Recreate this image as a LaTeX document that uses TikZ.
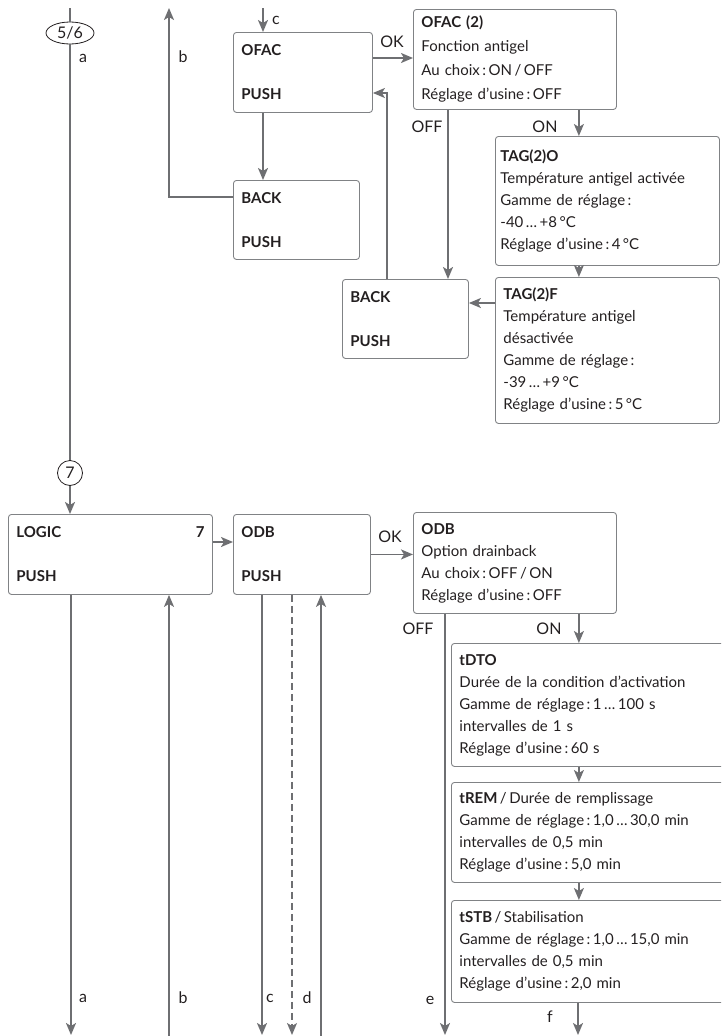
\documentclass[tikz,border=0pt]{standalone}
\usepackage{fontspec}
\setmainfont{Lato}
\usetikzlibrary{positioning, arrows.meta, shapes.geometric}
\definecolor{lineg}{RGB}{110,111,114}
\definecolor{boxg}{RGB}{128,130,133}
\definecolor{txt}{RGB}{35,31,32}

\begin{document}
\begin{tikzpicture}[x=1pt, y=-1pt,
    every node/.style={text=txt},
    box/.style={draw=boxg, line width=0.9pt, rounded corners=3pt, anchor=north west, inner xsep=8pt, inner ysep=0pt, align=left, font=\fontsize{15}{22}\selectfont},
    conn/.style={draw=lineg, line width=1.8pt},
    arr/.style={conn, -{Stealth[length=12pt, width=10pt, inset=3pt]}},
    lbl/.style={inner sep=0pt, font=\fontsize{16}{18}\selectfont}
]
\path[use as bounding box] (0,0) rectangle (721,1036);
\clip (0,0) rectangle (721,1036);

% Upper part: frost protection
\node[ellipse, draw=txt, line width=0.8pt, minimum width=48pt, minimum height=22pt, inner sep=0pt, font=\fontsize{16}{18}\selectfont] (e56) at (70,33) {5/6};
\node[box, text width=123pt, minimum height=80pt] (ofac) at (233,32) {\textbf{OFAC}\\[22pt]\textbf{PUSH}};
\node[box, text width=110pt, minimum height=79pt] (back1) at (233,180) {\textbf{BACK}\\[22pt]\textbf{PUSH}};
\node[box, text width=187pt, minimum height=100pt, font=\fontsize{15}{24}\selectfont] (ofac2) at (413,9) {\textbf{OFAC (2)}\\Fonction antigel\\Au choix\,:\,ON\,/\,OFF\\Réglage d’usine\,:\,OFF};
\node[box, inner xsep=5pt, text width=214pt, minimum height=129pt] (tago) at (495,136) {\textbf{TAG(2)O}\\Température antigel activée\\Gamme de réglage\,:\\-40\,…\,+8\,°C\\Réglage d’usine\,:\,4\,°C};
\node[box, text width=208pt, minimum height=146pt] (tagf) at (495,277) {\textbf{TAG(2)F}\\Température antigel\\désactivée\\Gamme de réglage\,:\\-39\,…\,+9\,°C\\Réglage d’usine\,:\,5\,°C};
\node[box, text width=110pt, minimum height=79pt] (back2) at (342,279) {\textbf{BACK}\\[22pt]\textbf{PUSH}};

% Lower part: drainback
\node[circle, draw=txt, line width=0.8pt, minimum size=25pt, inner sep=0pt, font=\fontsize{16}{18}\selectfont] (c7) at (70,473) {7};
\node[box, text width=188pt, minimum height=80pt] (logic) at (8,514) {\textbf{LOGIC}\hfill\textbf{7}\hspace*{11pt}\\[22pt]\textbf{PUSH}};
\node[box, text width=121pt, minimum height=80pt] (odb) at (233,514) {\textbf{ODB}\\[22pt]\textbf{PUSH}};
\node[box, text width=187pt, minimum height=101pt] (odb2) at (413,512) {\textbf{ODB}\\Option drainback\\Au choix\,:\,OFF\,/\,ON\\Réglage d’usine\,:\,OFF};
\node[box, text width=284pt, minimum height=123pt] (tdto) at (451,643) {\textbf{tDTO}\\Durée de la condition d’activation\\Gamme de réglage\,:\,1\,…\,100 s\\intervalles de 1 s\\Réglage d’usine\,:\,60 s};
\node[box, text width=284pt, minimum height=100pt] (trem) at (451,782) {\textbf{tREM}\,/\,Durée de remplissage\\Gamme de réglage\,:\,1,0\,…\,30,0 min\\intervalles de 0,5 min\\Réglage d’usine\,:\,5,0 min};
\node[box, text width=284pt, minimum height=102pt] (tstb) at (451,900) {\textbf{tSTB}\,/\,Stabilisation\\Gamme de réglage\,:\,1,0\,…\,15,0 min\\intervalles de 0,5 min\\Réglage d’usine\,:\,2,0 min};

% Labels
\node[lbl] (la) at (83,58) {a};
\node[lbl] (lb) at (183,57) {b};
\node[lbl] (lc) at (276,20) {c};
\node[lbl] (lok) at (392,42) {OK};
\node[lbl] (loff) at (427,127) {OFF};
\node[lbl] (lon) at (545,127) {ON};
\node[lbl] (lok2) at (390,537) {OK};
\node[lbl] (loff2) at (418,629) {OFF};
\node[lbl] (lon2) at (549,629) {ON};
\foreach \x/\y/\lab in {83/998/a, 183/998/b, 270/998/c, 307/998/d, 430/1000/e, 550/1017/f} {
    \node[lbl] (lbot-\lab) at (\x,\y) {\lab};
}

% Connectors, top
\coordinate (atop) at (70,8);
\draw[conn] (atop) -- (e56.north);
\draw[conn] (e56.south) -- (c7.north);
\draw[arr] (c7.south) -- (c7.south |- logic.north);

\coordinate (btop) at (169,8);
\draw[arr] ([yshift=-17pt]back1.north west) -| (btop);

\coordinate (ctop) at (263,8);
\draw[arr] (ctop) -- (ctop |- ofac.north);
\draw[arr] (ctop |- ofac.south) -- (ctop |- back1.north);

\coordinate (okA) at ([yshift=-26pt]ofac.north east);
\draw[arr] (okA) -- (okA -| ofac2.west);
\coordinate (offA) at ([xshift=35pt]ofac2.south west);
\draw[arr] (offA) -- (offA |- back2.north);
\coordinate (onA) at ([xshift=-38pt]ofac2.south east);
\draw[arr] (onA) -- (onA |- tago.north);
\draw[arr] (onA |- tago.south) -- (onA |- tagf.north);
\coordinate (tfA) at ([yshift=-26pt]tagf.north west);
\draw[arr] (tfA) -- (tfA -| back2.east);
\coordinate (bkA) at ([xshift=45pt]back2.north west);
\coordinate (bkB) at ([yshift=-61pt]ofac.north east);
\draw[arr] (bkA) |- (bkB);

% Connectors, bottom
\coordinate (lgA) at ([yshift=-28pt]logic.north east);
\draw[arr] (lgA) -- (lgA -| odb.west);
\draw[arr] (odb.east) -- (odb.east -| odb2.west);
\coordinate (onB) at ([xshift=-38pt]odb2.south east);
\draw[arr] (onB) -- (onB |- tdto.north);
\draw[arr] (onB |- tdto.south) -- (onB |- trem.north);
\draw[arr] (onB |- trem.south) -- (onB |- tstb.north);

\foreach \x/\src in {71/logic, 262/odb, 445/odb2, 578/tstb} {
    \coordinate (dn-\x) at (\x,1035);
    \draw[arr] (dn-\x |- \src.south) -- (dn-\x);
}
\coordinate (dn-d) at (292,1035);
\draw[arr, line width=1.5pt, dash pattern=on 7pt off 4pt] (dn-d |- odb.south) -- (dn-d);
\foreach \x/\dst in {169/logic, 321/odb} {
    \coordinate (up-\x) at (\x,1036);
    \draw[arr] (up-\x) -- (up-\x |- \dst.south);
}
\end{tikzpicture}
\end{document}
